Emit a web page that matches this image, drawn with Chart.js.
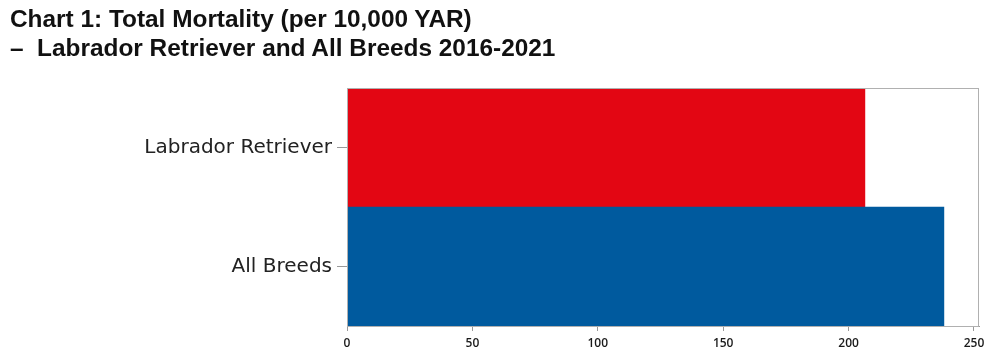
<!DOCTYPE html>
<html>
<head>
<meta charset="utf-8">
<script src="https://cdn.jsdelivr.net/npm/chart.js@4.4.0/dist/chart.umd.min.js"></script>
<style>
  html, body { margin: 0; padding: 0; background: #fff; }
  #wrap { position: relative; width: 1000px; height: 359px; }
  #title {
    position: absolute; left: 10px; top: 4px;
    font-family: "Liberation Sans", Arial, sans-serif;
    font-weight: bold; font-size: 24.4px; line-height: 29px; color: #111;
  }
  canvas { position: absolute; left: 0; top: 0; }
</style>
</head>
<body>
<div id="wrap">
  <canvas id="myChart" width="1000" height="359"></canvas>
  <div id="title">Chart 1: Total Mortality (per 10,000 YAR)<br>&ndash;&nbsp; Labrador Retriever and All Breeds 2016-2021</div>
</div>
<script>
var breeds = ["Labrador Retriever", "All Breeds"];
var mortality = [206.5, 238];
var barColors = ["#e30613", "#005a9e"];
var xTicks = [0, 50, 100, 150, 200, 250];

// frame round the plot area
var frame = {
  id: 'frame',
  afterDraw: function (chart) {
    var a = chart.chartArea, c = chart.ctx;
    c.save();
    c.strokeStyle = '#b0b0b0';
    c.lineWidth = 1;
    c.strokeRect(a.left + 0.5, a.top + 0.5, a.right - a.left - 1, a.bottom - a.top);
    c.restore();
  }
};

var ctx = document.getElementById('myChart').getContext('2d');
var myChart = new Chart(ctx, {
  type: 'bar',
  data: {
    labels: breeds,
    datasets: [{
      data: mortality,
      backgroundColor: barColors,
      borderWidth: 0,
      barPercentage: 1,
      categoryPercentage: 1
    }]
  },
  options: {
    indexAxis: 'y',
    responsive: false,
    animation: false,
    layout: { padding: { left: 0, right: 21, top: 88, bottom: 0 } },
    plugins: { legend: { display: false }, tooltip: { enabled: false } },
    scales: {
      x: {
        min: 0, max: 252,
        afterBuildTicks: function (scale) {
          scale.ticks = xTicks.map(function (v) { return { value: v }; });
        },
        afterFit: function (scale) { scale.height = 33; },
        grid: { drawOnChartArea: false, drawTicks: true, tickLength: 5, color: '#999' },
        border: { color: '#999' },
        ticks: {
          color: '#1a1a1a', padding: 5,
          font: { family: 'Open Sans', size: 12, weight: '600' }
        }
      },
      y: {
        afterFit: function (scale) { scale.width = 347; },
        grid: { drawOnChartArea: false, drawTicks: true, tickLength: 10, color: '#999', offset: false },
        border: { color: '#999' },
        ticks: {
          color: '#222', padding: 5,
          font: { family: 'DejaVu Sans', size: 20 }
        }
      }
    }
  },
  plugins: [frame]
});
</script>
</body>
</html>
